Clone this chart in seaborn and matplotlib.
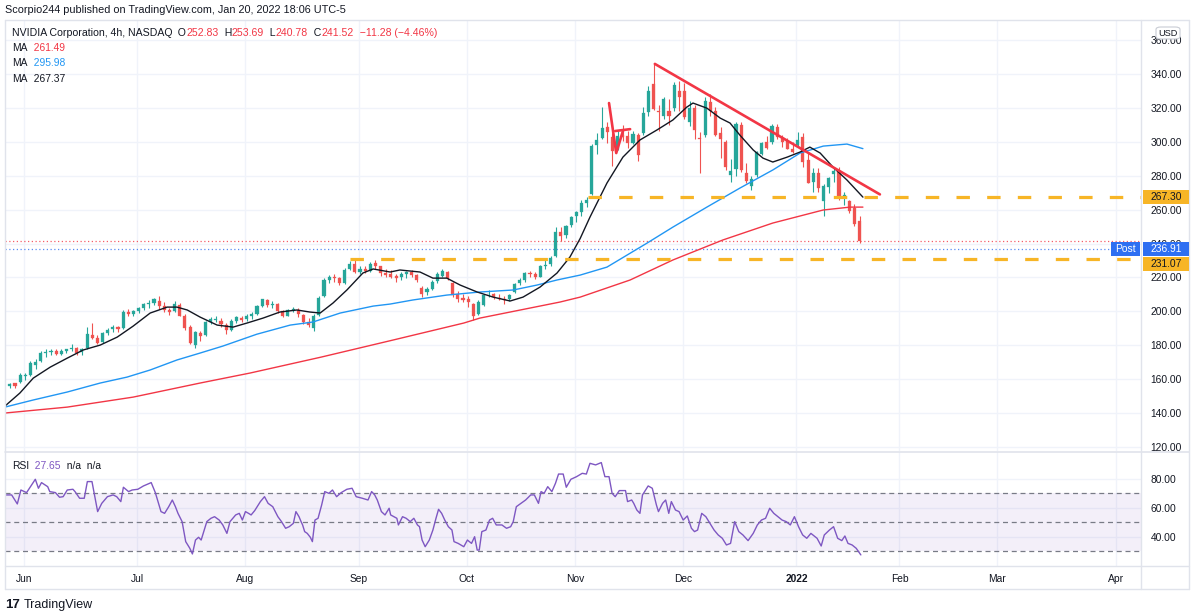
import numpy as np
import pandas as pd
import matplotlib
matplotlib.use("Agg")
import matplotlib.pyplot as plt
from matplotlib.patches import Rectangle, FancyBboxPatch
from matplotlib.lines import Line2D
import seaborn as sns

# ---------------- data ----------------
holidays = ["2021-05-31", "2021-07-05", "2021-09-06", "2021-11-25", "2021-12-24",
            "2022-01-17", "2022-02-21"]
first_day = "2021-05-26"
last_axis_day = "2022-04-08"

opens = [156.0, 157.5, 158.5, 162.0, 162.5, 168.5, 170.5, 175.5, 176.0, 176.5,
         175.0, 176.5, 177.5, 178.5, 176.0, 178.5, 186.0, 184.0, 182.0, 187.5,
         189.5, 190.5, 190.0, 199.5, 198.5, 200.0, 202.0, 204.5, 205.0, 206.0,
         203.0, 200.5, 200.0, 204.0, 197.5, 190.5, 180.0, 187.0, 186.0, 194.0,
         195.0, 194.5, 192.0, 189.0, 194.5, 196.0, 195.5, 197.5, 198.5, 203.0,
         206.5, 203.5, 204.5, 200.0, 197.5, 200.5, 201.0, 198.0, 194.0, 190.0,
         198.0, 209.0, 218.5, 220.0, 219.5, 216.5, 225.0, 228.0, 223.5, 225.0,
         224.0, 228.5, 226.5, 222.5, 222.0, 221.0, 220.0, 222.0, 223.0, 221.5,
         214.0, 211.5, 213.0, 218.0, 221.0, 223.0, 217.0, 210.0, 208.0, 207.0,
         204.5, 198.5, 204.0, 210.0, 210.5, 208.0, 207.5, 207.0, 211.5, 216.5,
         218.5, 222.5, 222.0, 220.5, 227.0, 228.0, 232.5, 247.0, 245.0, 251.0,
         256.5, 258.5, 264.0, 269.0, 298.0, 302.0, 309.0, 303.0, 296.0, 304.0,
         303.5, 299.5, 304.0, 305.0, 317.5, 334.0, 318.0, 315.5, 318.0, 320.0,
         330.0, 330.0, 312.0, 320.0, 302.0, 304.0, 323.5, 318.0, 305.0, 300.0,
         280.5, 284.0, 310.0, 281.5, 274.0, 280.5, 293.0, 300.0, 300.0, 309.0,
         302.5, 300.5, 296.0, 298.0, 303.0, 289.5, 276.5, 281.5, 265.0, 273.5,
         281.0, 283.0, 267.0, 265.0, 261.0, 253.5]
highs = [158.0, 158.0, 163.5, 163.5, 170.5, 172.0, 176.5, 177.5, 178.0, 177.5,
         177.5, 178.0, 180.5, 179.0, 178.5, 191.0, 193.0, 186.0, 188.0, 190.0,
         192.0, 191.5, 200.5, 201.5, 201.0, 202.5, 205.0, 206.5, 208.0, 208.8,
         205.5, 202.0, 206.0, 205.0, 198.5, 192.0, 188.5, 188.5, 194.5, 196.5,
         197.0, 196.0, 193.0, 195.5, 197.5, 197.5, 198.5, 199.5, 203.5, 207.5,
         207.5, 206.0, 205.0, 201.0, 201.5, 202.5, 202.0, 198.5, 196.0, 198.5,
         209.0, 219.5, 221.5, 222.0, 220.5, 225.5, 229.5, 230.5, 226.5, 226.5,
         229.0, 230.0, 227.0, 225.0, 224.5, 222.0, 223.0, 224.0, 224.5, 222.0,
         215.0, 214.5, 218.5, 223.0, 225.0, 224.0, 217.5, 212.0, 210.5, 209.0,
         205.0, 206.5, 210.5, 212.5, 211.0, 210.5, 209.0, 210.5, 216.5, 219.5,
         223.0, 224.0, 223.0, 227.5, 230.0, 232.5, 250.0, 249.5, 251.0, 256.0,
         259.5, 265.5, 267.5, 298.5, 305.0, 320.5, 311.5, 305.0, 306.5, 310.0,
         306.5, 306.5, 305.5, 320.5, 333.0, 346.5, 322.0, 326.5, 325.0, 335.5,
         336.0, 335.0, 324.0, 321.5, 306.0, 326.5, 328.0, 320.5, 308.5, 301.0,
         290.0, 311.5, 312.0, 287.5, 280.0, 294.5, 300.0, 303.5, 310.5, 310.5,
         304.0, 302.5, 300.0, 306.0, 305.5, 294.0, 284.5, 284.5, 275.0, 279.5,
         284.5, 285.0, 270.5, 265.5, 263.5, 256.0]
lows = [154.5, 154.8, 157.5, 159.5, 162.0, 166.0, 170.0, 173.0, 174.5, 174.0,
        174.5, 175.5, 176.5, 174.5, 174.0, 178.0, 183.5, 180.5, 181.5, 186.0,
        188.0, 188.0, 189.5, 197.0, 197.5, 199.0, 201.0, 202.0, 203.5, 201.5,
        199.5, 198.0, 199.5, 197.0, 189.0, 180.5, 178.5, 182.5, 185.5, 192.5,
        193.5, 191.0, 186.5, 188.5, 193.0, 193.5, 194.5, 195.5, 198.0, 202.5,
        202.5, 202.0, 199.0, 196.5, 197.0, 199.5, 196.5, 192.5, 190.5, 188.5,
        197.5, 208.5, 216.5, 217.5, 215.5, 216.0, 224.5, 222.5, 222.0, 222.5,
        223.5, 225.0, 221.0, 220.5, 219.5, 217.5, 218.5, 219.5, 220.5, 217.5,
        208.5, 209.5, 212.5, 217.0, 220.5, 218.5, 208.5, 205.5, 205.5, 202.5,
        195.0, 198.0, 203.0, 208.5, 207.0, 206.5, 204.5, 206.0, 211.0, 215.5,
        217.5, 220.5, 219.0, 220.0, 225.0, 226.5, 232.0, 241.5, 243.5, 249.5,
        252.5, 256.5, 261.5, 268.5, 293.0, 301.5, 299.5, 285.5, 295.0, 300.5,
        296.5, 298.5, 288.5, 304.0, 315.5, 319.0, 306.5, 313.5, 310.0, 318.5,
        318.5, 313.5, 309.5, 301.5, 281.5, 303.0, 315.5, 303.5, 290.5, 283.5,
        276.5, 280.0, 282.0, 276.0, 271.5, 279.0, 292.0, 295.5, 298.5, 301.5,
        297.0, 295.5, 293.5, 297.0, 285.0, 275.5, 270.5, 270.5, 256.5, 270.0,
        276.5, 265.5, 262.5, 258.0, 250.5, 240.5]
closes = [157.0, 155.8, 162.4, 162.0, 169.5, 170.0, 175.5, 175.6, 176.0, 175.0,
          176.5, 177.5, 178.6, 175.5, 178.0, 186.6, 184.5, 181.5, 187.5, 189.0,
          190.5, 189.5, 199.5, 198.5, 200.1, 202.0, 204.5, 205.0, 207.0, 203.0,
          200.5, 199.8, 204.5, 197.5, 190.0, 181.6, 187.8, 185.5, 194.0, 195.2,
          195.5, 192.5, 189.0, 194.5, 196.6, 195.0, 197.5, 198.5, 203.0, 207.0,
          203.5, 204.5, 200.0, 197.5, 200.5, 201.5, 198.5, 194.0, 192.0, 197.5,
          208.0, 218.5, 220.0, 219.5, 216.5, 224.5, 228.0, 223.5, 224.8, 224.0,
          228.0, 227.0, 222.5, 221.5, 220.0, 219.5, 222.0, 223.0, 221.5, 218.5,
          210.5, 213.0, 217.5, 222.0, 224.0, 219.5, 209.5, 207.0, 206.5, 205.5,
          197.5, 205.5, 209.5, 210.5, 208.5, 207.0, 206.5, 209.5, 216.0, 218.5,
          222.5, 222.0, 220.5, 227.0, 227.5, 231.5, 247.0, 244.5, 250.5, 255.5,
          258.5, 264.0, 265.5, 297.5, 301.0, 308.0, 306.0, 294.5, 303.5, 303.0,
          299.5, 304.5, 292.5, 316.8, 329.9, 319.5, 317.5, 325.5, 315.0, 333.5,
          326.5, 314.5, 320.0, 307.0, 301.5, 324.0, 318.0, 304.0, 301.5, 285.0,
          283.0, 310.5, 283.5, 277.0, 278.0, 294.0, 299.5, 296.5, 309.5, 303.0,
          300.0, 296.0, 294.0, 301.0, 288.0, 276.0, 281.5, 272.5, 274.0, 278.5,
          283.0, 268.0, 268.5, 259.5, 251.5, 241.5]

# moving averages (position in trading days, value)
ma_black_t = [-0.7, 2.2, 4.8, 8.1, 11.4, 14.5, 17.8, 21.1, 24.2, 27.5,
              30.8, 32.7, 34.7, 37.2, 40.5, 43.6, 46.3, 49.4, 52.7, 56.0,
              58.5, 60.5, 63.0, 65.7, 68.8, 70.8, 74.1, 76.0, 79.9, 82.4,
              85.1, 87.7, 91.0, 94.1, 97.4, 99.9, 103.2, 106.5, 109.0, 111.0,
              112.9, 116.2, 119.3, 122.6, 125.9, 129.0, 131.7, 132.9, 135.6, 138.2,
              140.1, 142.0, 144.6, 146.5, 148.4, 151.2, 153.7, 155.6, 157.6, 160.1,
              162.8, 165.9]
ma_black_v = [144.1, 151.8, 160.6, 167.1, 172.4, 177.2, 180.1, 184.8, 191.3, 199.0,
              202.5, 202.5, 200.8, 196.6, 191.9, 190.7, 193.1, 196.0, 199.6, 200.8,
              199.6, 199.0, 204.9, 212.6, 222.6, 225.0, 223.2, 224.4, 223.2, 219.6,
              219.6, 215.5, 211.4, 208.4, 206.1, 208.4, 214.3, 222.6, 232.0, 243.0,
              255.6, 275.7, 291.0, 301.1, 307.0, 312.9, 320.5, 322.9, 319.9, 314.0,
              311.1, 304.0, 295.2, 290.4, 288.1, 291.0, 294.0, 296.9, 293.4, 285.1,
              277.5, 267.4]
ma_blue_t = [-0.7, 4.8, 11.4, 17.8, 23.0, 27.5, 32.7, 37.2, 41.6, 48.2,
             54.7, 59.1, 64.4, 70.8, 74.1, 78.5, 85.1, 91.5, 98.0, 102.6,
             106.5, 111.0, 116.2, 124.0, 129.0, 135.6, 142.0, 148.4, 153.7, 158.2,
             162.8, 165.9]
ma_blue_v = [143.5, 147.7, 152.4, 157.7, 161.2, 165.4, 171.3, 175.4, 179.5, 186.5,
             191.9, 193.7, 199.0, 203.1, 204.3, 206.7, 209.6, 211.4, 212.6, 215.5,
             218.5, 221.4, 226.1, 240.3, 249.7, 261.5, 272.7, 283.4, 293.4, 297.5,
             298.7, 296.0]
ma_red_t = [-0.7, 11.4, 24.2, 37.2, 46.9, 60.7, 74.7, 88.4, 91.5, 107.1,
            111.0, 120.7, 129.0, 138.7, 148.4, 158.2, 163.4, 165.9]
ma_red_v = [140.0, 143.5, 149.4, 157.7, 163.6, 173.0, 183.1, 193.1, 196.0, 205.5,
            208.4, 218.5, 230.3, 242.1, 252.1, 259.8, 261.5, 261.5]

# RSI (position in trading days, value)
rsi_t = [-0.8, 0.6, 1.7, 2.4, 3.5, 5.2, 5.8, 6.4, 7.6, 8.0,
         9.1, 9.9, 10.6, 11.4, 12.5, 12.9, 13.8, 14.7, 15.3, 16.2,
         17.3, 18.1, 19.2, 20.3, 21.0, 21.8, 22.3, 23.3, 24.0, 25.1,
         26.2, 27.7, 28.5, 29.6, 30.3, 31.1, 31.8, 32.4, 32.9, 33.7,
         34.4, 35.2, 35.7, 36.3, 36.9, 37.4, 38.5, 39.3, 40.0, 40.9,
         41.6, 42.4, 43.0, 44.1, 44.8, 45.4, 46.0, 46.6, 47.1, 47.8,
         48.9, 49.7, 50.4, 51.3, 52.3, 53.0, 53.8, 54.5, 55.3, 55.8,
         56.4, 56.8, 57.1, 57.5, 58.0, 58.6, 59.0, 59.5, 60.1, 60.8,
         61.4, 62.2, 62.9, 63.7, 64.6, 65.7, 66.7, 67.5, 68.7, 69.8,
         70.5, 71.1, 71.6, 72.4, 73.1, 73.9, 74.2, 75.4, 75.7, 76.5,
         77.2, 78.0, 78.7, 79.4, 79.8, 80.3, 80.9, 81.7, 82.4, 83.0,
         83.5, 84.1, 84.7, 85.4, 86.1, 86.5, 87.3, 88.4, 89.1, 89.9,
         90.5, 91.0, 91.4, 91.9, 92.7, 93.4, 94.0, 94.7, 95.8, 96.7,
         97.5, 98.0, 98.6, 99.5, 100.4, 101.4, 102.1, 102.9, 103.4, 104.0,
         104.7, 105.5, 106.2, 106.8, 107.7, 108.3, 109.2, 110.3, 111.4, 112.2,
         112.9, 114.0, 115.1, 115.8, 116.6, 117.2, 117.8, 118.6, 119.8, 120.2,
         121.0, 121.4, 122.0, 122.6, 123.1, 124.2, 125.0, 125.8, 126.2, 127.0,
         127.6, 128.2, 128.7, 129.5, 130.2, 131.0, 131.8, 132.6, 133.2, 133.8,
         134.6, 135.4, 136.2, 137.0, 137.8, 138.6, 139.4, 140.2, 141.0, 141.8,
         142.6, 143.6, 144.6, 145.4, 146.2, 147.0, 147.8, 148.6, 149.4, 150.2,
         151.0, 151.8, 152.6, 153.4, 154.2, 155.0, 155.8, 157.0, 157.8, 158.4,
         159.4, 160.2, 161.0, 161.8, 162.4, 163.0, 163.8, 164.6, 165.5]
rsi_v = [69.0, 69.0, 62.8, 72.4, 70.6, 79.8, 73.6, 77.5, 74.7, 71.3,
         70.6, 67.4, 67.8, 72.4, 72.9, 71.3, 66.7, 66.7, 78.2, 78.2,
         57.5, 63.2, 67.8, 69.0, 67.8, 64.4, 74.3, 71.3, 72.4, 72.9,
         75.2, 77.5, 70.6, 57.5, 56.3, 60.9, 65.5, 60.9, 56.3, 50.6,
         36.8, 32.2, 28.3, 37.9, 39.8, 37.9, 50.6, 52.9, 54.0, 51.7,
         48.3, 42.5, 50.6, 55.2, 56.3, 51.7, 57.5, 56.3, 55.2, 58.2,
         64.4, 67.8, 63.2, 60.9, 54.0, 50.6, 46.0, 47.1, 49.4, 57.5,
         54.0, 50.6, 48.3, 43.7, 42.5, 39.8, 36.8, 51.7, 52.9, 62.1,
         71.3, 70.1, 72.4, 67.8, 70.6, 72.9, 73.6, 67.8, 66.7, 65.5,
         71.3, 69.0, 65.5, 57.5, 55.2, 59.8, 55.2, 52.9, 48.3, 54.0,
         52.9, 50.6, 52.9, 48.3, 47.1, 37.9, 33.3, 37.9, 44.8, 52.9,
         59.1, 56.3, 51.7, 47.1, 44.8, 36.8, 35.6, 33.3, 37.9, 35.6,
         40.2, 31.0, 31.0, 43.7, 44.8, 51.7, 52.9, 48.3, 48.3, 46.0,
         47.1, 50.6, 60.9, 63.2, 65.5, 69.0, 69.0, 63.2, 71.3, 70.1,
         74.7, 71.3, 77.0, 83.4, 83.4, 74.3, 79.8, 81.6, 83.9, 83.4,
         90.8, 89.7, 91.3, 81.6, 81.6, 70.1, 67.8, 72.0, 72.0, 64.4,
         65.5, 63.2, 58.6, 56.3, 69.0, 75.2, 73.6, 62.1, 57.5, 63.2,
         65.5, 56.3, 64.4, 58.6, 57.5, 51.7, 54.5, 46.0, 43.7, 44.8,
         56.3, 54.0, 49.4, 44.8, 41.4, 39.1, 34.5, 35.6, 50.6, 43.7,
         41.4, 37.5, 42.5, 48.3, 51.7, 52.9, 59.8, 56.3, 54.0, 51.7,
         50.6, 48.3, 54.0, 47.1, 41.4, 39.1, 42.5, 39.1, 33.8, 41.4,
         44.8, 47.1, 39.1, 37.5, 40.7, 35.6, 34.5, 32.2, 27.65]

# drawings
trend_t = [125.5, 169.2]
trend_v = [346.0, 269.0]
zig_t = [116.6, 118.0, 119.3]
zig_v = [322.9, 293.4, 306.4]
zigbar_t = [117.8, 120.7]
zigbar_v = [306.4, 307.5]
level_hi, level_hi_from = 267.30, 112.5
level_lo, level_lo_from = 231.07, 66.3
last_close = 241.52
post_price = 236.91

price_ticks = list(range(120, 361, 20))
rsi_ticks = [40, 60, 80]
rsi_levels = [30, 50, 70]
month_labels = ["Jun", "Jul", "Aug", "Sep", "Oct", "Nov", "Dec", "2022", "Feb", "Mar", "Apr"]

header = "Scorpio244 published on TradingView.com, Jan 20, 2022 18:06 UTC-5"
ohlc_row = [("NVIDIA Corporation, 4h, NASDAQ", "d"), ("  O", "d"), ("252.83", "r"),
            ("  H", "d"), ("253.69", "r"), ("  L", "d"), ("240.78", "r"),
            ("  C", "d"), ("241.52", "r"), ("  \u221211.28 (\u22124.46%)", "r")]
ma_rows = [[("MA", "d"), ("  261.49", "r")],
           [("MA", "d"), ("  295.98", "b")],
           [("MA", "d"), ("  267.37", "d")]]
rsi_row = [("RSI", "d"), ("  27.65", "p"), ("  n/a", "d"), ("  n/a", "d")]

# ---------------- style ----------------
sns.set_style("white")
plt.rcParams["font.family"] = ["Liberation Sans", "DejaVu Sans"]

DARK = "#131722"
GREEN = "#26a69a"
RED = "#ef5350"
LRED = "#f23645"
BLUE = "#2196f3"
PURPLE = "#7e57c2"
ORANGE = "#f7b526"
POSTBLUE = "#2e6ff2"
GRID = "#f0f3fa"
FRAME = "#e0e3eb"
FS = 7.4
pal = {"d": DARK, "r": LRED, "b": BLUE, "p": PURPLE}

W, H = 1196, 615
fig = plt.figure(figsize=(W / 100, H / 100), dpi=100)
fig.patch.set_facecolor("white")


def fx(px):
    return px / W


def fy(py):
    return 1 - py / H


X0, X1 = 5, 1141
MT, MB = 20, 451
RT, RB = 452, 566
XL = (-0.69, 219.9)
YL = (117.6, 371.9)
RL = (20.0, 98.6)

ax = fig.add_axes([fx(X0), fy(MB), fx(X1) - fx(X0), fy(MT) - fy(MB)])
rax = fig.add_axes([fx(X0), fy(RB), fx(X1) - fx(X0), fy(RT) - fy(RB)])

cal = pd.bdate_range(first_day, last_axis_day)
cal = cal[~cal.isin(pd.to_datetime(holidays))]
pos = np.arange(len(cal))
month_pos = [int(pos[i]) for i in range(1, len(cal)) if cal[i].month != cal[i - 1].month]

for a in (ax, rax):
    a.set_facecolor("white")
    for s in a.spines.values():
        s.set_visible(False)
    a.set_xlim(*XL)
    a.set_xticks(month_pos)
    a.grid(True, color=GRID, lw=1.0, zorder=0)
    a.yaxis.tick_right()
    a.tick_params(axis="both", length=0, colors=DARK, labelsize=FS)
    a.tick_params(axis="y", pad=7)
    a.set_axisbelow(True)

ax.set_ylim(*YL)
ax.set_yticks(price_ticks)
ax.set_yticklabels([f"{v:.2f}" for v in price_ticks])
ax.set_xticklabels([])

rax.set_ylim(*RL)
rax.set_yticks(rsi_ticks)
rax.set_yticklabels([f"{v:.2f}" for v in rsi_ticks])
rax.set_xticklabels(month_labels)
rax.tick_params(axis="x", pad=6)
for lab in rax.get_xticklabels():
    if lab.get_text() == "2022":
        lab.set_fontweight("bold")

# ---------------- candles ----------------
o = np.array(opens)
c = np.array(closes)
h = np.array(highs)
l = np.array(lows)
n = len(c)
cx = pos[:n] + 0.25
cols = np.where(c >= o, GREEN, RED)
ax.vlines(cx, l, h, colors=cols, lw=0.8, zorder=3)
ax.bar(cx, np.maximum(np.abs(c - o), 0.4), bottom=np.minimum(o, c), width=0.6,
       color=cols, edgecolor=cols, lw=0.2, zorder=4)

# ---------------- moving averages ----------------
sns.lineplot(x=ma_red_t, y=ma_red_v, ax=ax, color=LRED, lw=1.0, sort=False,
             estimator=None, legend=False, zorder=5)
sns.lineplot(x=ma_blue_t, y=ma_blue_v, ax=ax, color=BLUE, lw=1.0, sort=False,
             estimator=None, legend=False, zorder=5)
sns.lineplot(x=ma_black_t, y=ma_black_v, ax=ax, color=DARK, lw=1.0, sort=False,
             estimator=None, legend=False, zorder=5)

# ---------------- drawings ----------------
ax.hlines(level_hi, level_hi_from, XL[1], colors=ORANGE, lw=2.3,
          linestyles=(0, (4.2, 5.4)), zorder=6)
ax.hlines(level_lo, level_lo_from, XL[1], colors=ORANGE, lw=2.3,
          linestyles=(0, (4.2, 5.4)), zorder=6)
ax.axhline(last_close, color=LRED, lw=0.9, ls=(0, (1, 2)), alpha=0.8, zorder=2)
ax.axhline(post_price, color=POSTBLUE, lw=0.9, ls=(0, (1, 2)), alpha=0.8, zorder=2)
sns.lineplot(x=trend_t, y=trend_v, ax=ax, color=LRED, lw=1.9, sort=False,
             estimator=None, legend=False, zorder=7)
sns.lineplot(x=zig_t, y=zig_v, ax=ax, color=LRED, lw=1.9, sort=False,
             estimator=None, legend=False, zorder=7)
sns.lineplot(x=zigbar_t, y=zigbar_v, ax=ax, color=LRED, lw=1.9, sort=False,
             estimator=None, legend=False, zorder=7)

# ---------------- RSI ----------------
rax.axhspan(rsi_levels[0], rsi_levels[-1], color=PURPLE, alpha=0.09, lw=0, zorder=1)
for lv in rsi_levels:
    rax.axhline(lv, color="#787b86", lw=0.9, ls=(0, (4, 3)), zorder=2)
sns.lineplot(x=rsi_t, y=rsi_v, ax=rax, color=PURPLE, lw=1.0, sort=False,
             estimator=None, legend=False, zorder=4)


# ---------------- price scale labels ----------------
def py_price(p):
    return MT + (YL[1] - p) / (YL[1] - YL[0]) * (MB - MT)


def box(x0, x1, yc, hgt, face, text, tcol):
    fig.add_artist(Rectangle((fx(x0), fy(yc + hgt / 2)), fx(x1) - fx(x0), hgt / H,
                             transform=fig.transFigure, facecolor=face,
                             edgecolor="none", zorder=5))
    fig.text(fx((x0 + x1) / 2), fy(yc), text, color=tcol, fontsize=FS,
             ha="center", va="center", zorder=6)


y_hi = py_price(level_hi)
y_post = py_price(post_price)
y_lo = max(py_price(level_lo), y_post + 15)
box(1143, 1189, y_hi, 14, ORANGE, f"{level_hi:.2f}", DARK)
box(1143, 1189, y_post, 14, POSTBLUE, f"{post_price:.2f}", "white")
box(1111, 1140, y_post, 14, POSTBLUE, "Post", "white")
box(1143, 1189, y_lo, 14, ORANGE, f"{level_lo:.2f}", DARK)

fig.add_artist(FancyBboxPatch((fx(1156), fy(39)), fx(1180) - fx(1156), 12 / H,
                              boxstyle="round,pad=0,rounding_size=0.004",
                              transform=fig.transFigure, facecolor="white",
                              edgecolor="#c9ccd4", lw=0.8, zorder=5))
fig.text(fx(1168), fy(33), "USD", fontsize=6.6, color=DARK, ha="center",
         va="center", zorder=6)


# ---------------- texts ----------------
def chain(host, x_px, y_px, pieces, size=FS):
    t = fig.text(fx(x_px), fy(y_px), pieces[0][0], color=pal[pieces[0][1]],
                 fontsize=size, va="center", ha="left", zorder=8)
    for s, k in pieces[1:]:
        t = host.annotate(s, xy=(1, 0.5), xycoords=t, xytext=(0, 0),
                          textcoords="offset points", va="center", ha="left",
                          color=pal[k], fontsize=size, annotation_clip=False,
                          zorder=8)


fig.text(fx(5), fy(10), header, fontsize=FS + 0.4, color=DARK, va="center", ha="left")
chain(ax, 12, 33, ohlc_row, FS + 0.2)
for i, row in enumerate(ma_rows):
    chain(ax, 12, 48 + 15.5 * i, row)
chain(rax, 12, 466, rsi_row)

fig.text(fx(5), fy(605), "17", fontsize=9.5, fontweight="heavy", color=DARK,
         va="center", ha="left")
fig.text(fx(24), fy(605), "TradingView", fontsize=9.0, color=DARK, va="center", ha="left")


# ---------------- frame ----------------
def fline(xs, ys, lw=1.0):
    fig.add_artist(Line2D([fx(v) for v in xs], [fy(v) for v in ys], color=FRAME,
                          lw=lw, transform=fig.transFigure, zorder=4))


fline([5, 1189], [20, 20])
fline([5, 1189], [589, 589])
fline([5, 5], [20, 589])
fline([1189, 1189], [20, 589])
fline([1141, 1141], [20, 589])
fline([5, 1189], [451.5, 451.5], lw=1.2)
fline([5, 1189], [566, 566])

fig.savefig("out.png", dpi=100)
